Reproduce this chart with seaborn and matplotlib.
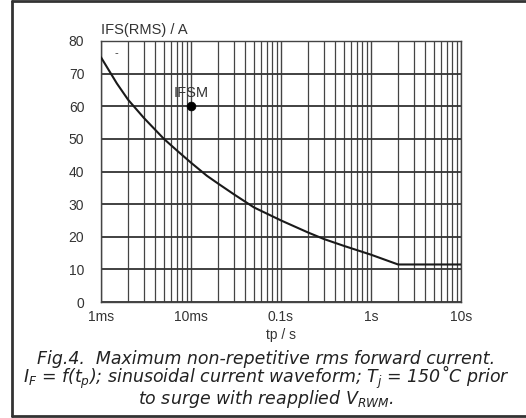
import numpy as np
import pandas as pd
import matplotlib
matplotlib.use("Agg")
import matplotlib.pyplot as plt
from matplotlib.ticker import FixedLocator, NullFormatter, FixedFormatter
import seaborn as sns

# ---- data ----
tp_s = [0.001, 0.0015, 0.002, 0.003, 0.005, 0.007, 0.010, 0.015, 0.020, 0.030,
        0.050, 0.100, 0.200, 0.300, 0.500, 1.0, 2.0, 10.0]
ifs_a = [75.0, 67.0, 62.0, 56.4, 50.0, 46.4, 42.7, 38.7, 36.3, 33.0,
         29.0, 25.0, 21.3, 19.3, 17.2, 14.5, 11.5, 11.5]
ifsm_t = [0.010]
ifsm_i = [60.0]
x_tick_vals = [0.001, 0.01, 0.1, 1.0, 10.0]
x_tick_labels = ["1ms", "10ms", "0.1s", "1s", "10s"]
y_tick_vals = [0, 10, 20, 30, 40, 50, 60, 70, 80]
caption_lines = [
    "Fig.4.  Maximum non-repetitive rms forward current.",
    r"$\mathit{I_F}$ = f($\mathit{t_p}$); sinusoidal current waveform; "
    r"$\mathit{T_j}$ = 150˚C prior",
    r"to surge with reapplied $\mathit{V_{RWM}}$.",
]

curve = pd.DataFrame({"tp": tp_s, "ifs": ifs_a})
point = pd.DataFrame({"tp": ifsm_t, "ifs": ifsm_i})

sns.set_theme(style="white")
plt.rcParams["font.family"] = ["Liberation Sans", "DejaVu Sans"]
plt.rcParams["mathtext.fontset"] = "dejavusans"

W, H = 526, 418
fig = plt.figure(figsize=(W / 100, H / 100), dpi=100)
ax = fig.add_axes([101 / W, 1 - 302 / H, (461 - 101) / W, (302 - 41) / H])

gcol = "#444444"
sns.lineplot(data=curve, x="tp", y="ifs", ax=ax, color="#1a1a1a", lw=1.5, zorder=5)
sns.scatterplot(data=point, x="tp", y="ifs", ax=ax, color="black", s=40,
                edgecolor="black", zorder=6)
ax.text(ifsm_t[0], 64.0, "IFSM", ha="center", va="center", fontsize=10.5,
        color="#333333")
ax.text(0.00147, 76.2, "-", ha="center", va="center", fontsize=8, color="#333333")

ax.set_xscale("log")
ax.set_xlim(0.001, 10)
ax.set_ylim(0, 80)

minors = [m * d for d in [0.001, 0.01, 0.1, 1.0] for m in range(2, 10)]
ax.xaxis.set_major_locator(FixedLocator(x_tick_vals))
ax.xaxis.set_major_formatter(FixedFormatter(x_tick_labels))
ax.xaxis.set_minor_locator(FixedLocator(minors))
ax.xaxis.set_minor_formatter(NullFormatter())
ax.yaxis.set_major_locator(FixedLocator(y_tick_vals))

ax.grid(True, which="major", axis="y", color="#333333", lw=1.3)
ax.grid(True, which="major", axis="x", color=gcol, lw=1.0)
ax.grid(True, which="minor", axis="x", color=gcol, lw=0.9)
for s in ax.spines.values():
    s.set_color(gcol)
    s.set_linewidth(1.0)

ax.tick_params(axis="both", which="major", direction="out", length=3, width=1,
               color=gcol, labelsize=10, labelcolor="#333333")
ax.tick_params(axis="x", which="major", pad=3)
ax.tick_params(axis="y", which="major", pad=9, length=3)
ax.tick_params(axis="x", which="minor", length=0)

ax.set_xlabel("tp / s", fontsize=10, color="#333333", labelpad=3)
ax.set_ylabel("")

fig.text(101 / W, 1 - 30 / H, "IFS(RMS) / A", ha="left", va="center",
         fontsize=10.5, color="#333333")

fig.text(266 / W, 1 - 380 / H, "\n".join(caption_lines), fontsize=12.5,
         family="DejaVu Sans", style="oblique", color="#222222",
         va="center", ha="center", multialignment="center", linespacing=0.82)

# outer frame of the figure panel
fc = "#333333"
fig.add_artist(plt.Line2D([12 / W, 12 / W], [1 - 416 / H, 1 - 1 / H],
                          transform=fig.transFigure, color=fc, lw=2))
fig.add_artist(plt.Line2D([12 / W, 1.0], [1 - 416 / H, 1 - 416 / H],
                          transform=fig.transFigure, color=fc, lw=2))
fig.add_artist(plt.Line2D([12 / W, 1.0], [1 - 1 / H, 1 - 1 / H],
                          transform=fig.transFigure, color=fc, lw=2))

fig.savefig("out.png", dpi=100)
